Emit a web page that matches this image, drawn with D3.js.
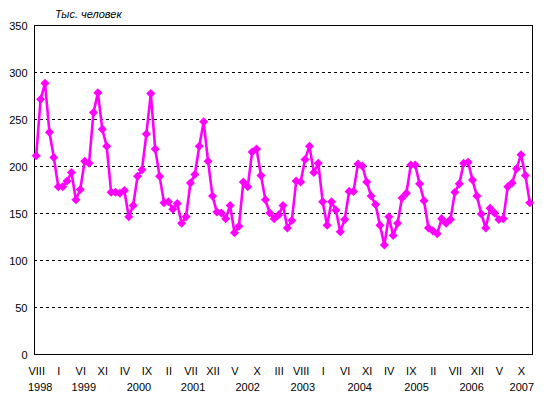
<!DOCTYPE html>
<html><head><meta charset="utf-8">
<script src="https://cdn.jsdelivr.net/npm/d3@7"></script>
<style>
html,body{margin:0;padding:0;background:#fff;}
text{font-family:"Liberation Sans",Arial,sans-serif;}
</style></head>
<body><svg id="c" width="546" height="408"></svg>
<script>
// Monthly values, VIII 1998 .. XII 2007 (thousand people)
const values = [
 211,271,288,236,209,178,178,184,193,164,
 175,205,203,257,278,239,221,172,172,171,
 174,146,158,189,196,234,277,218,189,161,
 162,154,160,139,146,182,191,221,247,205,
 168,151,150,144,158,129,136,183,178,215,
 218,190,164,150,144,148,158,134,142,184,
 183,207,221,193,203,162,137,162,153,130,
 143,173,173,202,200,183,168,159,137,116,
 146,126,139,166,171,201,201,181,163,134,
 131,128,144,139,143,172,181,203,204,185,
 168,149,134,155,150,143,144,178,182,197,
 212,190,161
];
const monthTickLabels = ["VIII","I","VI","XI","IV","IX","II","VII","XII","V","X","III",
  "VIII","I","VI","XI","IV","IX","II","VII","XII","V","X"];
const yearLabels = ["1998","1999","2000","2001","2002","2003","2004","2005","2006","2007"];
const yearLabelPos = [0.9,10.8,23.3,35.6,48,60.5,73.4,86.3,98.8,110.2];
const yTicks = [0,50,100,150,200,250,300,350];
const unitLabel = "Тыс. человек";

const svg = d3.select("#c");
const L=34, R=532, T=25, B=354;
const n = values.length;
const x = d3.scalePoint().domain(d3.range(n)).range([L,R]).padding(0.5);
const step = x.step();
const xPos = v => x(0) + v*step;
const y = d3.scaleLinear().domain([0,350]).range([B,T]);

// gridlines
svg.append("g").selectAll("line").data(yTicks.filter(t=>t>0 && t<350)).join("line")
  .attr("x1",L).attr("x2",R).attr("y1",d=>y(d)+0.5).attr("y2",d=>y(d)+0.5)
  .attr("stroke","#000").attr("stroke-width",1).attr("stroke-dasharray","3,3");

// frame
svg.append("rect").attr("x",L+0.5).attr("y",T+0.5).attr("width",R-L).attr("height",B-T)
  .attr("fill","none").attr("stroke","#000").attr("stroke-width",1);

// y axis
const yAxis = d3.axisLeft(y).tickValues(yTicks).tickSize(0).tickPadding(7).tickFormat(d3.format("d"));
const gy = svg.append("g").attr("transform",`translate(${L+0.5},0.5)`).call(yAxis);
gy.select(".domain").remove();
gy.selectAll("text").attr("font-size",11).attr("font-family","Liberation Sans, Arial, sans-serif").attr("fill","#000");

// x month labels
const tickIdx = d3.range(0,n,5);
const xAxis = d3.axisBottom(x).tickValues(tickIdx).tickSize(0).tickPadding(13)
  .tickFormat((d,i)=>monthTickLabels[i]);
const gx = svg.append("g").attr("transform",`translate(0,${B})`).call(xAxis);
gx.select(".domain").remove();
gx.selectAll("text").attr("font-size",11).attr("font-family","Liberation Sans, Arial, sans-serif").attr("fill","#000");

// year labels
svg.append("g").selectAll("text").data(yearLabels).join("text")
  .attr("x",(d,i)=>xPos(yearLabelPos[i])).attr("y",391)
  .attr("text-anchor","middle").attr("font-size",11).text(d=>d);

// unit label
svg.append("text").attr("x",55).attr("y",18).attr("font-size",11)
  .attr("font-style","italic").text(unitLabel);

// line
const line = d3.line().x((d,i)=>x(i)).y(d=>y(d));
svg.append("path").datum(values).attr("d",line).attr("fill","none")
  .attr("stroke","#FF00FF").attr("stroke-width",2.6).attr("stroke-linejoin","round");

// markers
svg.append("g").selectAll("path").data(values).join("path")
  .attr("d",d3.symbol().type(d3.symbolDiamond2).size(52))
  .attr("transform",(d,i)=>`translate(${x(i)},${y(d)})`)
  .attr("fill","#FF00FF");
</script></body></html>
